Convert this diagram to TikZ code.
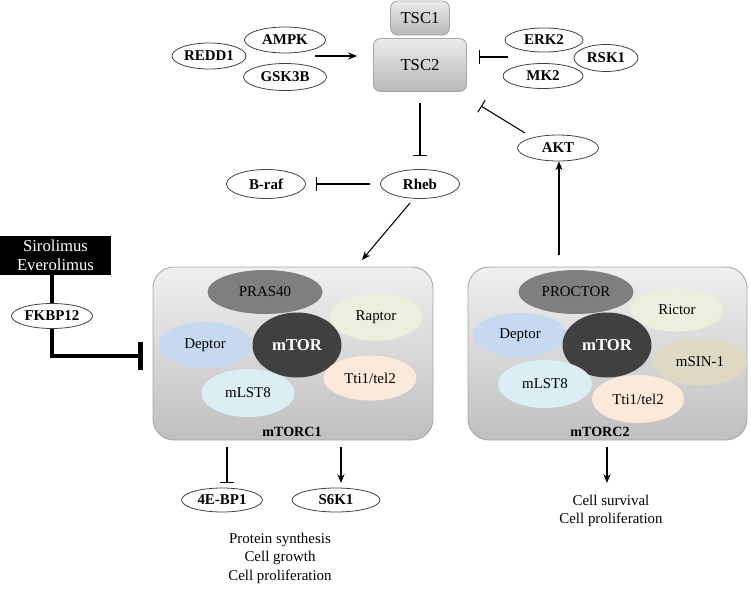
\documentclass[tikz,border=0pt]{standalone}
\usepackage{fontspec}
\setmainfont{Liberation Serif}
\usetikzlibrary{shapes.geometric,arrows.meta}
\definecolor{prascol}{RGB}{127,127,127}
\definecolor{raptcol}{RGB}{235,240,222}
\definecolor{depcol}{RGB}{198,217,241}
\definecolor{mlstcol}{RGB}{219,238,244}
\definecolor{tticol}{RGB}{253,233,217}
\definecolor{msincol}{RGB}{221,217,195}
\definecolor{mtorcol}{RGB}{64,64,64}
\begin{document}
\begin{tikzpicture}[x=0.02cm,y=-0.02cm,
  ov/.style 2 args={ellipse,draw=black!75,line width=0.45pt,fill=white,inner sep=0pt,
    minimum width=#1*0.02cm,minimum height=#2*0.02cm,font=\fontsize{8.5}{10}\selectfont\bfseries},
  sub/.style n args={3}{ellipse,fill=#3,draw=none,inner sep=0pt,
    minimum width=#1*0.02cm,minimum height=#2*0.02cm,font=\fontsize{8.5}{10}\selectfont},
  core/.style={ellipse,fill=mtorcol,draw=none,inner sep=0pt,minimum width=89*0.02cm,
    minimum height=65*0.02cm,text=white,font=\fontsize{9.5}{11}\selectfont\bfseries},
  act/.style={-{Stealth[length=5pt,width=4pt]},line width=0.6pt},
  inh/.style={-{Bar[width=8pt]},line width=0.6pt},
  drug/.style={-{Bar[width=16pt,line width=2.8pt]},line width=2.8pt},
  cplx/.style={rectangle,rounded corners=12pt,draw=black!35,line width=0.5pt,
    top color=black!6,bottom color=black!25,inner sep=0pt},
  tsc/.style={rectangle,rounded corners=4pt,draw=black!35,line width=0.5pt,
    top color=black!8,bottom color=black!28,inner sep=0pt,font=\fontsize{9.5}{11}\selectfont},
  note/.style={align=center,font=\fontsize{8.5}{10.5}\selectfont},
]
\useasboundingbox (0,0) rectangle (751,595);

% TSC complex
\node[tsc,minimum width=59*0.02cm,minimum height=34*0.02cm] (tsc1) at (420,18) {TSC1};
\node[tsc,minimum width=93*0.02cm,minimum height=53*0.02cm] (tsc2) at (420,65) {TSC2};

% activators of TSC2
\node[ov={81}{26}] (ampk) at (285,40) {AMPK};
\node[ov={83}{27}] (gsk) at (285,77) {GSK3B};
\node[ov={74}{26}] (redd) at (209,56) {REDD1};
\coordinate (actstart) at (315,56);
\coordinate (actend) at (357,56);
\draw[act] (actstart) -- (actend);

% inhibitors of TSC2
\node[ov={78}{24}] (erk) at (544,40) {ERK2};
\node[ov={80}{25}] (mk2) at (543,76) {MK2};
\node[ov={64}{27}] (rsk) at (606,58) {RSK1};
\coordinate (inhstart) at (508,57);
\coordinate (inhend) at (479,57);
\draw[inh] (inhstart) -- (inhend);

% Rheb, B-raf, AKT
\node[ov={79}{29}] (rheb) at (420,184) {Rheb};
\node[ov={79}{29}] (braf) at (266,184) {B-raf};
\node[ov={81}{26}] (akt) at (558,148) {AKT};
\coordinate (tscbot) at (420,103);
\coordinate (rhebtop) at (420,156);
\draw[inh] (tscbot) -- (rhebtop);
\coordinate (rhebw) at (370,184);
\coordinate (brafe) at (316,184);
\draw[inh] (rhebw) -- (brafe);
\coordinate (aktnw) at (525,133);
\coordinate (tscse) at (481,106);
\draw[inh] (aktnw) -- (tscse);

% mTORC1
\node[cplx,minimum width=280*0.02cm,minimum height=173*0.02cm] (c1) at (293,353.5) {};
\node[sub={115}{44}{prascol}] (pras) at (265,292) {PRAS40};
\node[sub={93}{47}{raptcol}] (raptor) at (376,317) {Raptor};
\node[sub={93}{46}{depcol}] (dep1) at (205,345) {Deptor};
\node[core] (mtor1) at (297,345) {mTOR};
\node[sub={93}{48}{mlstcol}] (mlst1) at (248,393) {mLST8};
\node[sub={93}{45}{tticol}] (tti1) at (370,378) {Tti1/tel2};
\node[font=\fontsize{8}{10}\selectfont\bfseries] (l1) at (292,432) {mTORC1};

% mTORC2
\node[cplx,minimum width=279*0.02cm,minimum height=173*0.02cm] (c2) at (607.5,353.5) {};
\node[sub={115}{44}{prascol}] (proc) at (576,292) {PROCTOR};
\node[sub={93}{43}{raptcol}] (rictor) at (677,310) {Rictor};
\node[sub={94}{44}{depcol}] (dep2) at (520,335) {Deptor};
\node[core] (mtor2) at (607,345) {mTOR};
\node[sub={94}{47}{msincol}] (msin) at (700,362) {mSIN-1};
\node[sub={94}{48}{mlstcol}] (mlst2) at (545,384) {mLST8};
\node[sub={92}{48}{tticol}] (tti2) at (638,399) {Tti1/tel2};
\node[font=\fontsize{8}{10}\selectfont\bfseries] (l2) at (600,432) {mTORC2};

% Rheb -> mTORC1, mTORC2 -> AKT
\coordinate (rhebsw) at (410,203);
\coordinate (c1top) at (362,260);
\draw[act] (rhebsw) -- (c1top);
\coordinate (c2top) at (559,255);
\draw[act] (c2top) -- (akt.south -| c2top);

% Drug
\node[fill=black,text=white,minimum width=111*0.02cm,minimum height=39*0.02cm,inner sep=0pt,
  align=center,font=\fontsize{9.5}{11}\selectfont] (drug) at (55.5,255.5) {Sirolimus\\Everolimus};
\node[ov={81}{25}] (fkbp) at (52,316) {FKBP12};
\draw[line width=2.8pt] (drug.south -| fkbp.north) -- (fkbp.north);
\coordinate (drugend) at (143,356);
\draw[drug] (fkbp.south) |- (drugend);

% outputs of mTORC1
\node[ov={81}{24}] (ebp) at (222,500) {4E-BP1};
\node[ov={88}{24}] (s6k) at (336,500) {S6K1};
\coordinate (c1a) at (227,447);
\coordinate (c1ae) at (227,483);
\coordinate (c1b) at (341,447);
\coordinate (c1be) at (341,483);
\draw[inh] (c1a) -- (c1ae);
\draw[act] (c1b) -- (c1be);
\node[note] (out1) at (280,558) {Protein synthesis\\Cell growth\\Cell proliferation};

% outputs of mTORC2
\coordinate (c2a) at (607,447);
\coordinate (c2b) at (607,483);
\draw[act] (c2a) -- (c2b);
\node[note] (out2) at (611,511) {Cell survival\\Cell proliferation};
\end{tikzpicture}
\end{document}
